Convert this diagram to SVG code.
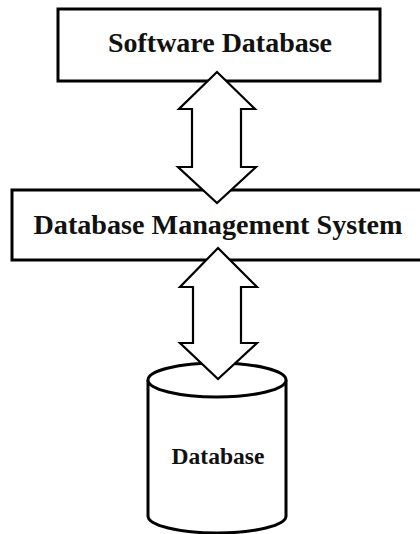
<svg xmlns="http://www.w3.org/2000/svg" width="420" height="534" viewBox="0 0 420 534">
<style>
.box{fill:#fff;stroke:#000;stroke-width:3}
.arr{fill:#fff;stroke:#000;stroke-width:2.2;stroke-linejoin:miter}
.t{font-family:"Liberation Serif","Times New Roman",serif;font-weight:bold;fill:#111;text-anchor:middle}
</style>
<rect width="420" height="534" fill="#fff"/>
<g id="software-db">
<rect class="box" x="58" y="9" width="322" height="72"/>
<text class="t" x="220" y="51.5" font-size="27.5" textLength="224" lengthAdjust="spacingAndGlyphs">Software Database</text>
</g>
<g id="dbms">
<rect class="box" x="12" y="190" width="420" height="70"/>
<text class="t" x="218" y="234" font-size="27" textLength="369" lengthAdjust="spacingAndGlyphs">Database Management System</text>
</g>
<g id="database">
<path class="box" d="M148,380 V516 A69,17 0 0 0 286,516 V380"/>
<ellipse class="box" cx="217" cy="380" rx="69" ry="17"/>
<text class="t" x="218" y="464" font-size="23.5" textLength="93" lengthAdjust="spacingAndGlyphs">Database</text>
</g>
<g id="connectors">
<polygon class="arr" points="217,72 255,109 241,109 241,167 256,167 217,203 178,167 192,167 192,109 179,109"/>
<polygon class="arr" points="218,248 257,287 241,287 241,343 257,343 218,379 180,343 193,343 193,287 180,287"/>
</g>
</svg>
